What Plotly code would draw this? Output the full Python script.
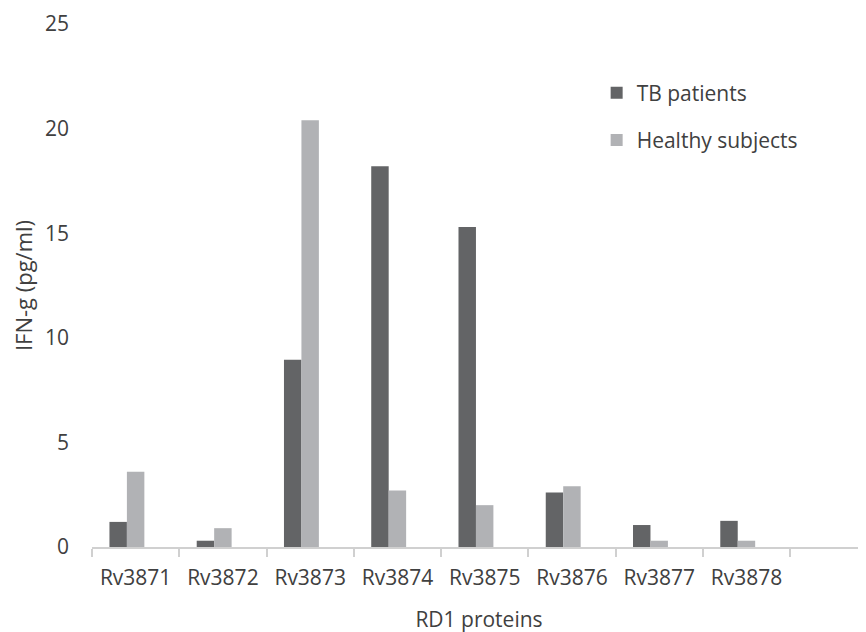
import plotly.graph_objects as go

categories = ["Rv3871", "Rv3872", "Rv3873", "Rv3874", "Rv3875", "Rv3876", "Rv3877", "Rv3878", " "]
tb_patients = [1.2, 0.3, 8.95, 18.2, 15.3, 2.6, 1.05, 1.25, None]
healthy_subjects = [3.6, 0.9, 20.4, 2.7, 2.0, 2.9, 0.3, 0.3, None]
empty_series = [None] * 9
y_ticks = [0, 5, 10, 15, 20, 25]

FONT = "Open Sans"
TXT = "#404040"

fig = go.Figure()
fig.add_trace(go.Bar(x=categories, y=tb_patients, name="TB patients",
                     marker=dict(color="#636466", line=dict(width=0)), legendgroup="a"))
fig.add_trace(go.Bar(x=categories, y=healthy_subjects, name="Healthy subjects",
                     marker=dict(color="#b1b2b5", line=dict(width=0)), legendgroup="b"))
fig.add_trace(go.Bar(x=categories, y=empty_series, name="", showlegend=False,
                     marker=dict(color="rgba(0,0,0,0)")))

fig.update_layout(
    width=866, height=632,
    margin=dict(l=84, r=8, t=16, b=93, autoexpand=False),
    paper_bgcolor="white", plot_bgcolor="white",
    barmode="group", bargap=0.4, bargroupgap=0,
    font=dict(family=FONT, size=21, color=TXT),
    showlegend=True,
    legend=dict(x=0.652, y=0.907, xanchor="left", yanchor="top",
                font=dict(family=FONT, size=21, color=TXT), itemwidth=30,
                tracegroupgap=17, bgcolor="rgba(0,0,0,0)"),
    xaxis=dict(type="category", categoryorder="array", categoryarray=categories,
               range=[-0.5, 8.37], showgrid=False, showline=True, linecolor="#d0d0d0",
               linewidth=1.5, ticks="outside", tickson="boundaries", ticklen=8,
               tickcolor="#d0d0d0", tickwidth=1.5, ticklabelstandoff=11,
               automargin=False,
               tickfont=dict(family=FONT, size=21, color=TXT),
               title=dict(text="RD1 proteins", font=dict(family=FONT, size=21, color=TXT),
                          standoff=22),
               fixedrange=True),
    yaxis=dict(range=[0, 25], tickvals=y_ticks, showgrid=False, zeroline=False,
               showline=False, ticks="", ticklabelstandoff=22, automargin=False,
               tickfont=dict(family=FONT, size=21, color=TXT),
               title=dict(text="IFN-g (pg/ml)", font=dict(family=FONT, size=22, color=TXT),
                          standoff=10)),
)

fig.write_html("out.html")
